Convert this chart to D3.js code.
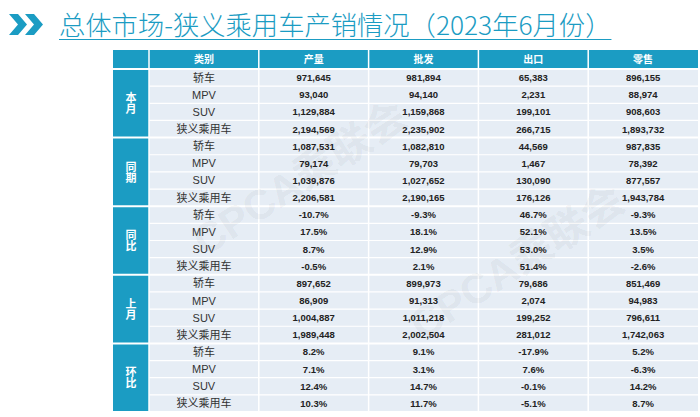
<!DOCTYPE html>
<html><head><meta charset="utf-8">
<script src="https://cdn.jsdelivr.net/npm/d3@7"></script>
<style>html,body{margin:0;padding:0;background:#fff;}svg{display:block;}</style>
</head><body>
<script>
const titleText = "总体市场-狭义乘用车产销情况（2023年6月份）";
const groups = ["本月", "同期", "同比", "上月", "环比"];
const pctGroups = ["同比", "环比"];
const categories = ["轿车", "MPV", "SUV", "狭义乘用车"];
const headers = ["类别", "产量", "批发", "出口", "零售"];
const production = [971645, 93040, 1129884, 2194569, 1087531, 79174, 1039876, 2206581, -10.7, 17.5, 8.7, -0.5, 897652, 86909, 1004887, 1989448, 8.2, 7.1, 12.4, 10.3];
const wholesale = [981894, 94140, 1159868, 2235902, 1082810, 79703, 1027652, 2190165, -9.3, 18.1, 12.9, 2.1, 899973, 91313, 1011218, 2002504, 9.1, 3.1, 14.7, 11.7];
const exportVol = [65383, 2231, 199101, 266715, 44569, 1467, 130090, 176126, 46.7, 52.1, 53.0, 51.4, 79686, 2074, 199252, 281012, -17.9, 7.6, -0.1, -5.1];
const retail = [896155, 88974, 908603, 1893732, 987835, 78392, 877557, 1943784, -9.3, 13.5, 3.5, -2.6, 851469, 94983, 796611, 1742063, 5.2, -6.3, 14.2, 8.7];
const watermark = "CPCA乘联会";

const W = 700, H = 417;
const teal = "#1b9cc3";
const cellBg = "#e6edf5";
const svg = d3.select("body").append("svg").attr("width", W).attr("height", H);
const loc = d3.formatLocale({decimal: ".", thousands: ",", grouping: [3], currency: ["", ""], minus: "-"});

// chevron icon
const chev = svg.append("g").attr("fill", teal);
[0, 16].forEach(dx => {
  chev.append("path").attr("d", d3.line()([[9+dx,14],[18+dx,14],[27+dx,24.5],[18+dx,35],[9+dx,35],[18+dx,24.5]]) + "Z");
});
// title
const title = svg.append("text").attr("x", 59).attr("y", 34.5)
  .attr("font-family", "'Noto Sans CJK SC', sans-serif").attr("font-weight", 300)
  .attr("font-size", 26.3).attr("fill", teal).text(titleText);
const tw = title.node().getComputedTextLength();
svg.append("line").attr("x1", 59).attr("x2", 59 + tw).attr("y1", 39.5).attr("y2", 39.5)
  .attr("stroke", teal).attr("stroke-width", 1.2);

// table scales
const nRows = groups.length * categories.length;
const tTop = 50, headH = 19, tBottom = 412;
const tLeft = 113, groupW = 36, tRight = 698;
const y = d3.scaleBand().domain(d3.range(nRows)).range([tTop + headH, tBottom]);
const x = d3.scaleBand().domain(headers).range([tLeft + groupW, tRight]);
const series = [production, wholesale, exportVol, retail];
const fmtN = loc.format(",");
const fmtP = v => loc.format(".1f")(v) + "%";

const tbl = svg.append("g");
// header
tbl.append("rect").attr("x", tLeft).attr("y", tTop).attr("width", groupW).attr("height", headH).attr("fill", teal);
tbl.selectAll(".hd").data(headers).join("rect").attr("x", d => x(d)).attr("y", tTop)
  .attr("width", x.bandwidth()).attr("height", headH).attr("fill", teal);
tbl.selectAll(".ht").data(headers).join("text").attr("x", d => x(d) + x.bandwidth()/2).attr("y", tTop + headH/2 + 3.5)
  .attr("text-anchor", "middle").attr("font-family", "'Noto Sans CJK SC', sans-serif").attr("font-weight", 700)
  .attr("font-size", 10).attr("fill", "#fff").text(d => d);

// body cells
const rows = d3.range(nRows).map(i => ({i, g: groups[Math.floor(i / categories.length)], c: categories[i % categories.length]}));
tbl.selectAll(".cell").data(rows.flatMap(r => headers.map(h => ({r, h})))).join("rect")
  .attr("x", d => x(d.h)).attr("y", d => y(d.r.i)).attr("width", x.bandwidth()).attr("height", y.bandwidth())
  .attr("fill", cellBg);
// group cells
tbl.selectAll(".grp").data(groups).join("rect").attr("x", tLeft)
  .attr("y", (g, k) => y(k * categories.length)).attr("width", groupW)
  .attr("height", y.bandwidth() * categories.length).attr("fill", teal);

// grid lines (white)
const grid = tbl.append("g").attr("stroke", "#fff");
grid.selectAll(".hl").data(d3.range(nRows + 1)).join("line")
  .attr("x1", d => d % categories.length === 0 ? tLeft : tLeft + groupW).attr("x2", tRight)
  .attr("y1", d => d === nRows ? tBottom : y(d)).attr("y2", d => d === nRows ? tBottom : y(d))
  .attr("stroke-width", d => d % categories.length === 0 ? 2 : 1.2);
grid.selectAll(".vl").data(headers).join("line")
  .attr("x1", d => x(d)).attr("x2", d => x(d)).attr("y1", tTop).attr("y2", tBottom).attr("stroke-width", 1.5);

// group labels (vertical writing)
tbl.selectAll(".gl").data(groups).join("text")
  .attr("x", tLeft + groupW/2)
  .attr("y", (g, k) => y(k * categories.length) + y.bandwidth() * categories.length / 2)
  .attr("writing-mode", "vertical-rl").attr("text-anchor", "middle")
  .attr("font-family", "'Noto Sans CJK SC', sans-serif").attr("font-weight", 700)
  .attr("font-size", 11).attr("fill", "#fff").text(d => d);

// category labels
tbl.selectAll(".cat").data(rows).join("text").attr("x", x("类别") + x.bandwidth()/2)
  .attr("y", d => y(d.i) + y.bandwidth()/2 + 4).attr("text-anchor", "middle")
  .attr("font-family", "'Liberation Sans', 'Noto Sans CJK SC', sans-serif").attr("font-size", 11).attr("fill", "#333")
  .text(d => d.c);

// values
headers.slice(1).forEach((h, s) => {
  tbl.selectAll(".v" + s).data(rows).join("text").attr("x", x(h) + x.bandwidth()/2)
    .attr("y", d => y(d.i) + y.bandwidth()/2 + 3.5).attr("text-anchor", "middle")
    .attr("font-family", "'Liberation Sans', Arial, sans-serif").attr("font-weight", 700)
    .attr("font-size", 9.5).attr("fill", "#222")
    .text(d => pctGroups.includes(d.g) ? fmtP(series[s][d.i]) : fmtN(series[s][d.i]));
});

// watermarks
[[300, 178], [517, 262]].forEach(([cx, cy]) => {
  svg.append("text").attr("transform", `translate(${cx},${cy}) rotate(-33)`).attr("text-anchor", "middle")
    .attr("dy", "0.35em").attr("font-family", "'Liberation Sans', 'Noto Sans CJK SC', sans-serif").attr("font-weight", 700)
    .attr("font-size", 42).attr("fill", "#000").attr("fill-opacity", 0.055).text(watermark);
});
</script>
</body></html>
